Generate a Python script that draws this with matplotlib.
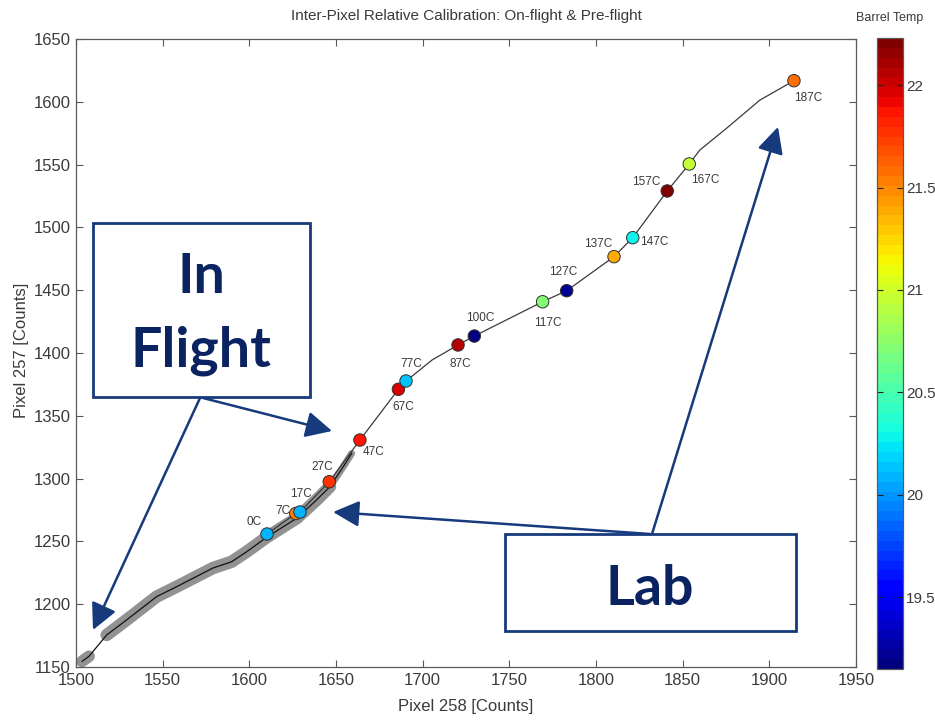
import matplotlib
matplotlib.use("Agg")
import matplotlib.pyplot as plt
from matplotlib.colors import Normalize
from matplotlib.cm import ScalarMappable
from matplotlib.patches import Rectangle

# ---- data -------------------------------------------------------------
# Pre-flight (lab) calibration points: pixel 258 vs pixel 257 counts
lab_labels = ["0C", "7C", "17C", "27C", "47C", "67C", "77C", "87C", "100C",
              "117C", "127C", "137C", "147C", "157C", "167C", "187C"]
lab_x = [1610.2, 1626.8, 1629.2, 1646.1, 1663.8, 1686.0, 1690.4, 1720.4,
         1729.8, 1769.2, 1783.1, 1810.4, 1821.2, 1841.1, 1853.8, 1914.2]
lab_y = [1255.9, 1272.2, 1273.4, 1297.5, 1330.7, 1371.1, 1377.7, 1406.4,
         1413.5, 1440.8, 1449.6, 1476.7, 1491.8, 1529.0, 1550.5, 1616.8]
barrel_temp = [20.07, 21.55, 20.07, 21.75, 21.85, 21.98, 20.15, 22.07,
               19.15, 20.70, 19.20, 21.40, 20.30, 22.20, 20.97, 21.58]

# Lab trace (markers plus the extra vertices along the connecting line)
lab_trace_x = [1610.2, 1626.8, 1629.2, 1646.1, 1663.8, 1686.0, 1690.4, 1705.4,
               1720.4, 1729.8, 1769.2, 1783.1, 1810.4, 1821.2, 1841.1, 1853.8,
               1859.9, 1875.3, 1894.6, 1914.2]
lab_trace_y = [1255.9, 1272.2, 1273.4, 1297.5, 1330.7, 1371.1, 1377.7, 1394.4,
               1406.4, 1413.5, 1440.8, 1449.6, 1476.7, 1491.8, 1529.0, 1550.5,
               1561.6, 1578.9, 1601.4, 1616.8]

# In-flight data trace
flight_x = [1503.5, 1507.5, 1517.7, 1529.2, 1546.5, 1560.0, 1579.0, 1589.8,
            1598.5, 1610.2, 1627.3, 1638.8, 1646.5, 1654.2, 1659.0]
flight_y = [1154.5, 1158.5, 1175.5, 1187.5, 1206.0, 1215.3, 1228.8, 1233.8,
            1241.8, 1253.5, 1268.4, 1283.0, 1293.6, 1309.5, 1320.0]

x_ticks = [1500, 1550, 1600, 1650, 1700, 1750, 1800, 1850, 1900, 1950]
y_ticks = [1150, 1200, 1250, 1300, 1350, 1400, 1450, 1500, 1550, 1600, 1650]
cbar_ticks = [19.5, 20, 20.5, 21, 21.5, 22]
temp_range = (19.15, 22.23)

# label offsets in pixels (dx right, dy up)
label_offsets = [(-13, 12), (-13, 3), (1, 18), (-7, 15), (14, -12), (5, -18),
                 (5, 17), (2, -19), (6, 18), (5, -21), (-4, 19), (-16, 13),
                 (21, -4), (-21, 9), (16, -16), (14, -17)]

# ---- figure -----------------------------------------------------------
W, H = 935, 721
FONT = ["Liberation Sans Narrow", "Liberation Sans", "DejaVu Sans"]
plt.rcParams["font.family"] = FONT
TXT = "#3a3a3a"
FRAME = "#5a5a5a"

fig = plt.figure(figsize=(W / 100, H / 100), dpi=100)
fig.patch.set_facecolor("white")

ax = fig.add_axes([76 / W, 1 - 667 / H, 780 / W, 628 / H])
cax = fig.add_axes([877 / W, 1 - 669 / H, 26 / W, 631 / H])

ax.set_xlim(1500, 1950)
ax.set_ylim(1150, 1650)
ax.set_xticks(x_ticks)
ax.set_yticks(y_ticks)
ax.tick_params(direction="in", length=5, width=0.8, color=FRAME,
               top=True, right=True, labelsize=12, labelcolor=TXT, pad=4)
for s in ax.spines.values():
    s.set_color(FRAME)
    s.set_linewidth(0.9)

# in-flight band (grey) with mean trace
BAND = "#929292"
ax.plot(flight_x[:2], flight_y[:2], color=BAND, lw=8.5,
        solid_capstyle="round", zorder=1)
ax.plot(flight_x[2:13], flight_y[2:13], color=BAND, lw=9,
        solid_capstyle="round", solid_joinstyle="round", zorder=1)
ax.plot(flight_x[12:], flight_y[12:], color=BAND, lw=5,
        solid_capstyle="round", zorder=1)
ax.plot(flight_x, flight_y, color="#111111", lw=0.9, zorder=2)

# lab trace
ax.plot(lab_trace_x, lab_trace_y, color="#3a3a3a", lw=0.9, zorder=2)

cmap = plt.get_cmap("jet", 64)
norm = Normalize(*temp_range)
ax.scatter(lab_x, lab_y, c=barrel_temp, cmap=cmap, norm=norm, s=80,
           edgecolors="#2f2f2f", linewidths=0.7, zorder=4)

for lbl, x, y, (dx, dy) in zip(lab_labels, lab_x, lab_y, label_offsets):
    ax.annotate(lbl, (x, y), xytext=(dx, dy), textcoords="offset pixels",
                ha="center", va="center", fontsize=8.5, color=TXT, zorder=5)

# colorbar
cb = fig.colorbar(ScalarMappable(norm=norm, cmap=cmap), cax=cax)
cb.set_ticks(cbar_ticks)
cb.set_ticklabels(["19.5", "20", "20.5", "21", "21.5", "22"])
cax.tick_params(axis="y", direction="in", left=True, right=True,
                labelleft=False, labelright=True, length=4, width=0.8,
                color="#222222", labelsize=11, labelcolor=TXT, pad=2)
cb.outline.set_edgecolor(FRAME)
cb.outline.set_linewidth(0.9)

# text
fig.text(466 / W, 1 - 16 / H,
         "Inter-Pixel Relative Calibration: On-flight & Pre-flight",
         ha="center", va="center", fontsize=11, color=TXT)
fig.text(466 / W, 1 - 706 / H, "Pixel 258 [Counts]", ha="center",
         va="center", fontsize=12, color=TXT)
fig.text(22 / W, 1 - 350 / H, "Pixel 257 [Counts]", ha="center",
         va="center", rotation=90, fontsize=12, color=TXT)
fig.text(890 / W, 1 - 18 / H, "Barrel Temp", ha="center", va="center",
         fontsize=9, color=TXT)

# ---- callout boxes and arrows -----------------------------------------
NAVY_T = "#0b2461"
NAVY_L = "#163a7c"
ov = fig.add_axes([0, 0, 1, 1], zorder=10)
ov.set_xlim(0, W)
ov.set_ylim(H, 0)
ov.axis("off")
ov.patch.set_alpha(0)

ov.add_patch(Rectangle((93, 223), 217, 174, fill=True, facecolor="white",
                       edgecolor=NAVY_L, lw=2))
ov.add_patch(Rectangle((505, 534), 291, 97, fill=True, facecolor="white",
                       edgecolor=NAVY_L, lw=2))
ov.text(201, 277, "In", ha="center", va="center", fontsize=40,
        fontweight="bold", family=["Lato", "DejaVu Sans"], color=NAVY_T)
ov.text(201, 351, "Flight", ha="center", va="center", fontsize=40,
        fontweight="bold", family=["Lato", "DejaVu Sans"], color=NAVY_T)
ov.text(650, 589, "Lab", ha="center", va="center", fontsize=40,
        fontweight="bold", family=["Lato", "DejaVu Sans"], color=NAVY_T)

arrow_style = dict(arrowstyle="-|>,head_length=0.8,head_width=0.4",
                   mutation_scale=20, color=NAVY_L, lw=1.8,
                   shrinkA=0, shrinkB=0)
# (tip in data coords, tail in figure pixels)
arrows = [((1509.8, 1179.5), (200, 398)),
          ((1647.7, 1337.9), (203, 398)),
          ((1905.0, 1580.0), (652, 534)),
          ((1648.3, 1273.4), (650, 534))]
for tip, tail in arrows:
    ov.annotate("", xy=tip, xycoords=ax.transData, xytext=tail,
                textcoords="data", arrowprops=arrow_style,
                annotation_clip=False)

fig.savefig("out.png", dpi=100, facecolor="white")
